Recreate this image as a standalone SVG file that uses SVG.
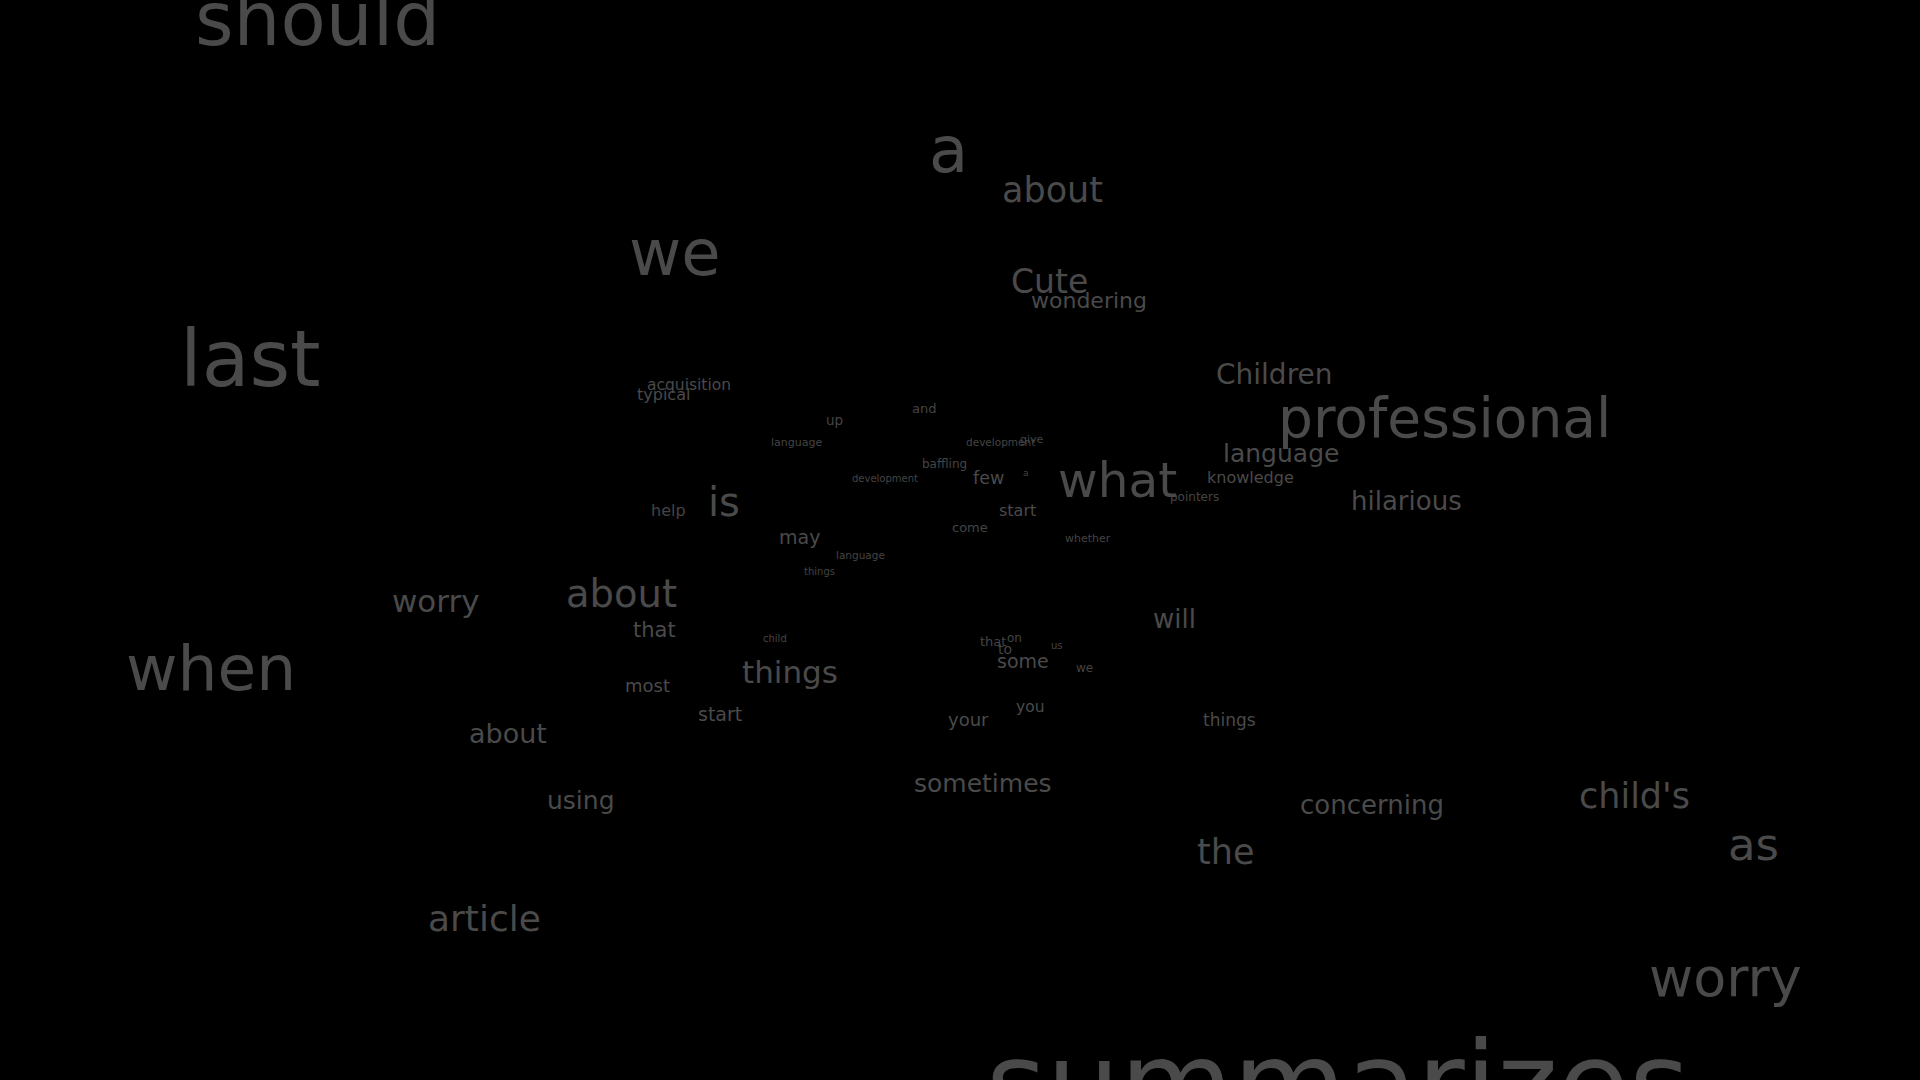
<svg xmlns="http://www.w3.org/2000/svg" width="1920" height="1080" viewBox="0 0 1920 1080">
<style>
text{font-family:"DejaVu Sans","Liberation Sans",sans-serif;fill:#4a4a4a}
.s{fill:#444444}
</style>
<rect width="1920" height="1080" fill="#000000"/>
<g id="words">
<text x="195" y="45" font-size="74">should</text>
<text x="929" y="172" font-size="64">a</text>
<text x="1002" y="202" font-size="35">about</text>
<text x="629" y="275" font-size="64">we</text>
<text x="1011" y="293" font-size="33">Cute</text>
<text x="1031" y="308" font-size="22">wondering</text>
<text x="180" y="386" font-size="78">last</text>
<text x="647" y="390" font-size="15.5">acquisition</text>
<text x="637" y="400" font-size="16">typical</text>
<text class="s" x="912" y="413" font-size="13">and</text>
<text class="s" x="826" y="425" font-size="13.5">up</text>
<text class="s" x="771" y="446" font-size="11">language</text>
<text class="s" x="966" y="446" font-size="10.5">development</text>
<text class="s" x="1020" y="443" font-size="11">give</text>
<text class="s" x="922" y="468" font-size="12">baffling</text>
<text class="s" x="852" y="482" font-size="10">development</text>
<text x="973" y="484" font-size="17.5">few</text>
<text class="s" x="1023" y="476" font-size="9">a</text>
<text x="1058" y="497" font-size="48.5">what</text>
<text x="708" y="516" font-size="40">is</text>
<text class="s" x="651" y="516" font-size="16">help</text>
<text x="999" y="516" font-size="16">start</text>
<text class="s" x="952" y="532" font-size="13">come</text>
<text class="s" x="1065" y="542" font-size="11">whether</text>
<text x="779" y="544" font-size="19">may</text>
<text class="s" x="836" y="559" font-size="10.5">language</text>
<text class="s" x="804" y="575" font-size="10">things</text>
<text x="1207" y="483" font-size="16">knowledge</text>
<text x="1223" y="462" font-size="25">language</text>
<text class="s" x="1170" y="501" font-size="12">pointers</text>
<text x="1351" y="510" font-size="26">hilarious</text>
<text x="1278" y="437" font-size="55">professional</text>
<text x="1216" y="384" font-size="28">Children</text>
<text x="392" y="612" font-size="31">worry</text>
<text x="566" y="607" font-size="38.5">about</text>
<text x="633" y="637" font-size="21">that</text>
<text class="s" x="763" y="642" font-size="10">child</text>
<text x="126" y="690" font-size="63">when</text>
<text x="742" y="683" font-size="31">things</text>
<text x="625" y="692" font-size="18">most</text>
<text x="698" y="721" font-size="19">start</text>
<text x="469" y="743" font-size="27">about</text>
<text x="547" y="809" font-size="25">using</text>
<text x="428" y="931" font-size="36">article</text>
<text class="s" x="980" y="646" font-size="13">that</text>
<text class="s" x="1007" y="642" font-size="12">on</text>
<text class="s" x="998" y="654" font-size="14">to</text>
<text x="997" y="668" font-size="19">some</text>
<text class="s" x="1051" y="649" font-size="10">us</text>
<text class="s" x="1076" y="672" font-size="12">we</text>
<text x="1153" y="628" font-size="26">will</text>
<text x="1016" y="712" font-size="15.5">you</text>
<text x="948" y="726" font-size="18">your</text>
<text x="1203" y="726" font-size="17">things</text>
<text x="914" y="792" font-size="25">sometimes</text>
<text x="1300" y="814" font-size="26">concerning</text>
<text x="1579" y="808" font-size="35">child's</text>
<text x="1197" y="864" font-size="35">the</text>
<text x="1728" y="860" font-size="45">as</text>
<text x="1649" y="996" font-size="54">worry</text>
<text x="986" y="1124" font-size="116">summarizes</text>
</g>
</svg>
